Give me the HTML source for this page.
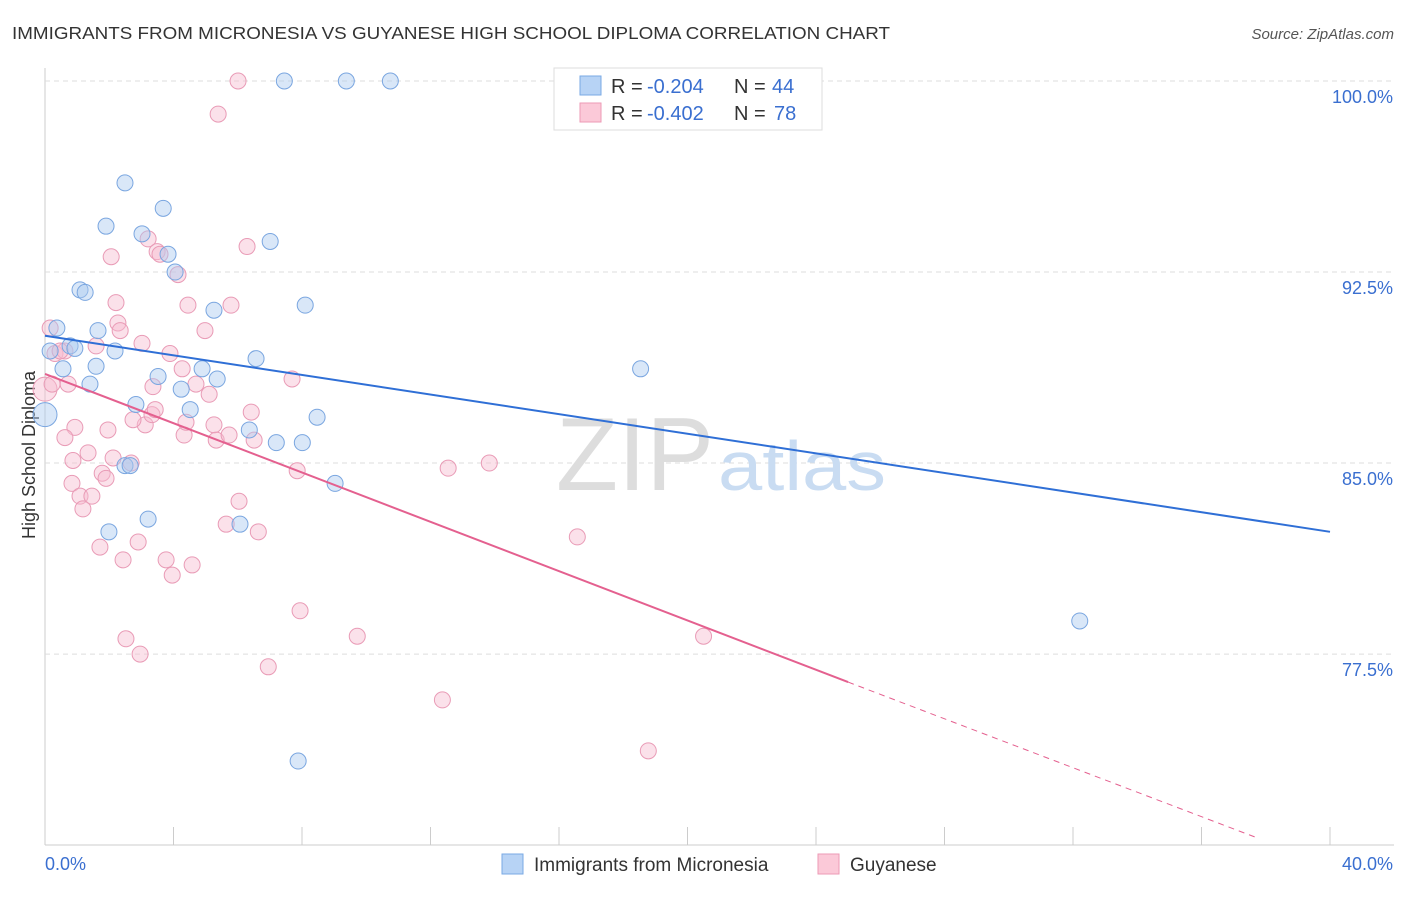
<!DOCTYPE html>
<html><head><meta charset="utf-8"><style>
body{margin:0;background:#fff;font-family:"Liberation Sans",sans-serif;}
svg text{font-family:"Liberation Sans",sans-serif;}
</style></head><body>
<svg id="chart" width="1406" height="892">
<text x="12" y="39" font-size="17.5" fill="#333" textLength="878" lengthAdjust="spacingAndGlyphs">IMMIGRANTS FROM MICRONESIA VS GUYANESE HIGH SCHOOL DIPLOMA CORRELATION CHART</text>
<text x="1394" y="39" font-size="15" fill="#555" font-style="italic" text-anchor="end">Source: ZipAtlas.com</text>
<text x="35" y="455" font-size="18" fill="#333" text-anchor="middle" transform="rotate(-90 35 455)">High School Diploma</text>
<g id="grid"></g>
<text x="714" y="490" font-size="104" fill="#ddd" text-anchor="end" font-family="Liberation Serif" textLength="158" lengthAdjust="spacingAndGlyphs">ZIP</text>
<text x="718" y="490" font-size="70" fill="#c9dcf2" textLength="168" lengthAdjust="spacingAndGlyphs">atlas</text>
<g id="marks"></g>
<g>
<rect x="554" y="68" width="268" height="62" fill="#fff" stroke="#ddd"/>
<rect x="580" y="76" width="21" height="19" fill="#b7d3f5" stroke="#7aa9e4"/>
<rect x="580" y="103" width="21" height="19" fill="#fbc9d8" stroke="#ec9ab6"/>
<text x="611" y="93" font-size="20" fill="#333">R =</text>
<text x="647" y="93" font-size="20" fill="#3a6fd0">-0.204</text>
<text x="734" y="93" font-size="20" fill="#333">N =</text>
<text x="772" y="93" font-size="20" fill="#3a6fd0">44</text>
<text x="611" y="120" font-size="20" fill="#333">R =</text>
<text x="647" y="120" font-size="20" fill="#3a6fd0">-0.402</text>
<text x="734" y="120" font-size="20" fill="#333">N =</text>
<text x="774" y="120" font-size="20" fill="#3a6fd0">78</text>
</g>
<g>
<rect x="502" y="854" width="21" height="20" fill="#b7d3f5" stroke="#7aa9e4"/>
<text x="534" y="871" font-size="19" fill="#333">Immigrants from Micronesia</text>
<rect x="818" y="854" width="21" height="20" fill="#fbc9d8" stroke="#ec9ab6"/>
<text x="850" y="871" font-size="19" fill="#333">Guyanese</text>
</g>
</svg>
<script>
const xTicks=[0,4,8,12,16,20,24,28,32,36,40];
const yTicks=[77.5,85.0,92.5,100.0];
const blueX=[0,0.37,0.16,0.56,0.78,0.93,1.40,1.09,1.25,1.59,1.65,2.18,1.90,2.49,3.02,3.68,3.83,4.05,3.52,4.24,4.52,2.83,2.49,2.65,3.21,1.99,4.89,5.26,5.36,6.57,6.36,7.01,7.20,8.01,8.10,8.47,9.03,7.45,9.38,10.75,6.07,18.54,32.21,7.88];
const blueY=[86.9,90.3,89.4,88.7,89.6,89.5,88.1,91.8,91.7,88.8,90.2,89.4,94.3,96.0,94.0,95.0,93.2,92.5,88.4,87.9,87.1,87.3,84.9,84.9,82.8,82.3,88.7,91.0,88.3,89.1,86.3,93.7,85.8,85.8,91.2,86.8,84.2,100,100,100,82.6,88.7,78.8,73.3];
const pinkX=[6.01,5.39,0.16,0.31,0,0.22,0.62,0.72,0.93,0.62,0.87,0.84,1.09,1.18,1.34,1.46,1.71,1.78,1.90,1.96,2.06,2.21,2.27,2.34,2.12,2.43,2.52,2.68,2.90,2.96,3.02,3.12,3.21,3.33,3.43,3.36,3.49,3.58,3.77,3.96,4.14,3.89,4.27,4.33,4.45,4.39,4.58,4.70,5.11,5.26,5.33,5.64,5.73,5.79,6.04,6.29,6.42,6.51,6.64,6.95,7.69,7.85,7.94,9.72,12.37,12.55,13.83,16.57,18.78,20.50,1.59,0.47,2.74,4.98];
const pinkY=[100,98.7,90.3,89.3,87.9,88.1,89.4,88.1,86.4,86.0,85.1,84.2,83.7,83.2,85.4,83.7,81.7,84.6,84.4,86.3,93.1,91.3,90.5,90.2,85.2,81.2,78.1,85.0,81.9,77.5,89.7,86.5,93.8,86.9,87.1,88.0,93.3,93.2,81.2,80.6,92.4,89.3,88.7,86.1,91.2,86.6,81.0,88.1,87.7,86.5,85.9,82.6,86.1,91.2,83.5,93.5,87.0,85.9,82.3,77.0,88.3,84.7,79.2,78.2,75.7,84.8,85.0,82.1,73.7,78.2,89.6,89.4,86.7,90.2];
const blueTrend=[[0,90.0],[40,82.3]];
const pinkTrend=[[0,88.5],[25,76.4],[37.7,70.3]];
const sx=v=>45+v*32.125, sy=v=>81+(100-v)*25.47;
const NS="http://www.w3.org/2000/svg";
const grid=document.getElementById('grid'), marks=document.getElementById('marks');
function mk(tag,attrs,parent){const e=document.createElementNS(NS,tag);for(const k in attrs)e.setAttribute(k,attrs[k]);parent.appendChild(e);return e;}
mk('line',{x1:45,y1:68,x2:45,y2:845,stroke:'#ccc'},grid);
mk('line',{x1:45,y1:845,x2:1394,y2:845,stroke:'#ccc'},grid);
yTicks.forEach(t=>{
 const l=mk('line',{x1:45,x2:1394,y1:sy(t),y2:sy(t),stroke:'#ddd','stroke-dasharray':'5,4'},grid);
 
 
 const tx=mk('text',{x:1393,y:sy(t)+22,'font-size':18,fill:'#3a6fd0','text-anchor':'end'},grid);
 tx.textContent=t.toFixed(1)+'%';
 
 
});
xTicks.forEach(t=>{
 const l=mk('line',{x1:sx(t),x2:sx(t),y1:827,y2:845,stroke:'#ccc'},grid);
 
 
});
[[0,'start',45],[40,'end',1393]].forEach(([v,a,x])=>{
 const tx=mk('text',{x:x,y:870,'font-size':18,fill:'#3a6fd0','text-anchor':a},grid);
 tx.textContent=v.toFixed(1)+'%';
 
 
});
function dots(X,Y,fill,stroke,name){
 X.forEach((x,i)=>{
  const big=(x===0);
  const c=mk('circle',{cx:sx(x),cy:sy(Y[i]),r:big?12:8,fill:fill,'fill-opacity':0.45,stroke:stroke,'stroke-width':1},marks);
  
  
 });
}
dots(pinkX,pinkY,'#f7bcd0','#e99bb6','point-guyanese');
dots(blueX,blueY,'#aac9f0','#7aa6e0','point-micronesia');
const bl=mk('line',{x1:sx(blueTrend[0][0]),y1:sy(blueTrend[0][1]),x2:sx(blueTrend[1][0]),y2:sy(blueTrend[1][1]),stroke:'#2f6fd6','stroke-width':2},marks);


const pl=mk('line',{x1:sx(pinkTrend[0][0]),y1:sy(pinkTrend[0][1]),x2:sx(pinkTrend[1][0]),y2:sy(pinkTrend[1][1]),stroke:'#e4608f','stroke-width':2},marks);


const pd=mk('line',{x1:sx(pinkTrend[1][0]),y1:sy(pinkTrend[1][1]),x2:sx(pinkTrend[2][0]),y2:sy(pinkTrend[2][1]),stroke:'#e4608f','stroke-width':1,'stroke-dasharray':'6,5'},marks);


</script>
</body></html>
